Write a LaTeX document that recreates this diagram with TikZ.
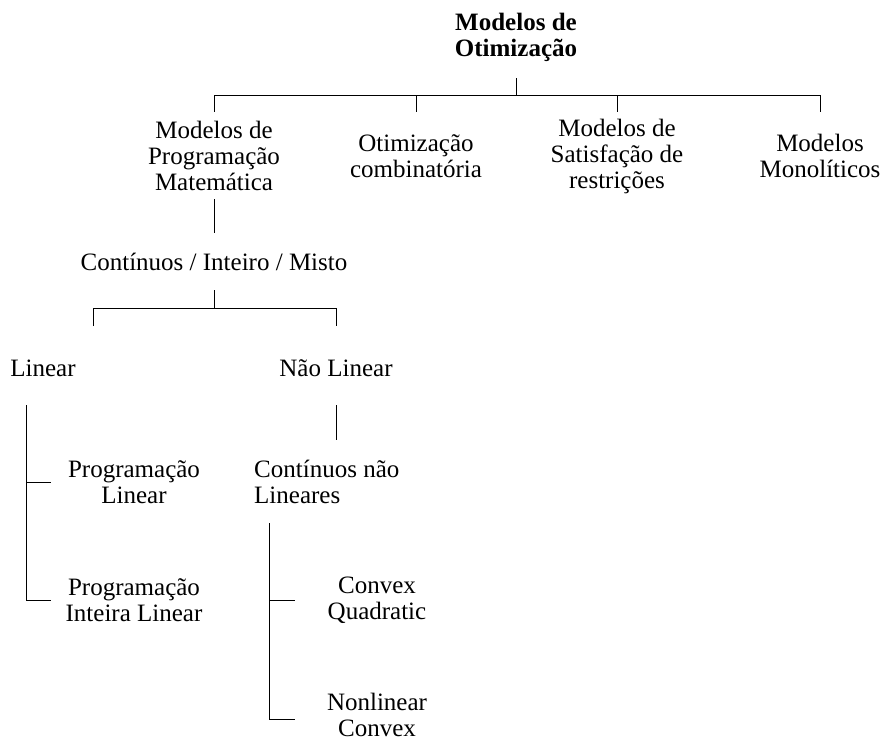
\documentclass[tikz,border=0pt]{standalone}
\usepackage{fontspec}
\setmainfont{Liberation Serif}
\tikzset{
x=1pt, y=-1pt,% one unit per pixel, y going down
every node/.style={inner sep=0pt, align=center, font=\fontsize{25}{26}\selectfont}, % all the labels
line width=2pt, % thickness of the tree lines
}
\begin{document}
\begin{tikzpicture}
        \useasboundingbox (0,0) rectangle (881,742);
        \node[font=\fontsize{25}{26}\selectfont\bfseries] (OTIM) at (516,37) {Modelos de\\Otimização};
        \node (PROG) at (214,156) {Modelos de\\Programação\\Matemática};
        \node (COMB) at (416,156) {Otimização\\combinatória};
        \node (SAT) at (617,156) {Modelos de\\Satisfação de\\restrições};
        \node (MONO) at (820,156) {Modelos\\Monolíticos};
        \node (CIM) at (214,262) {Contínuos / Inteiro / Misto};
        \node (LIN) at (43,368) {Linear};
        \node (NLIN) at (336,368) {Não Linear};
        \node (PL) at (134,482) {Programação\\Linear};
        \node (PIL) at (134,600) {Programação\\Inteira Linear};
        \node[anchor=west, align=left] (CNL) at (254,482) {Contínuos não\\Lineares};
        \node (CQ) at (377,600) {Convex\\Quadratic};
        \node (NC) at (377,715) {Nonlinear\\Convex};

        \coordinate (bar) at (0,95);
        \coordinate (bar2) at (0,308);
        \coordinate (LK) at (93,326);
        \coordinate (LV) at ([xshift=-17pt,yshift=-37pt]LIN.center);
        \coordinate (CV) at ([xshift=15pt,yshift=-41pt]CNL.west);

        \draw ([yshift=-41pt]OTIM.center) -- (OTIM |- bar);
        \draw (PROG |- bar) -- (MONO |- bar);
        \foreach \n in {PROG,COMB,SAT,MONO}
            \draw (\n |- bar) -- ([yshift=44pt]\n.center);
        \draw ([yshift=-43pt]PROG.center) -- ([yshift=29pt]CIM.center);
        \draw ([yshift=-28pt]CIM.center) -- (CIM |- bar2);
        \draw (LK) |- (NLIN |- bar2) -- ([yshift=42pt]NLIN.center);
        \draw (LV) |- ([xshift=-83pt]PIL.center);
        \draw (LV |- PL) -- ([xshift=-83pt]PL.center);
        \draw ([yshift=-37pt]NLIN.center) -- ([yshift=-72pt]NLIN.center);
        \draw (CV) |- ([xshift=-82pt,yshift=-4pt]NC.center);
        \draw (CV |- CQ) -- ([xshift=-82pt]CQ.center);
     \end{tikzpicture}
\end{document}
